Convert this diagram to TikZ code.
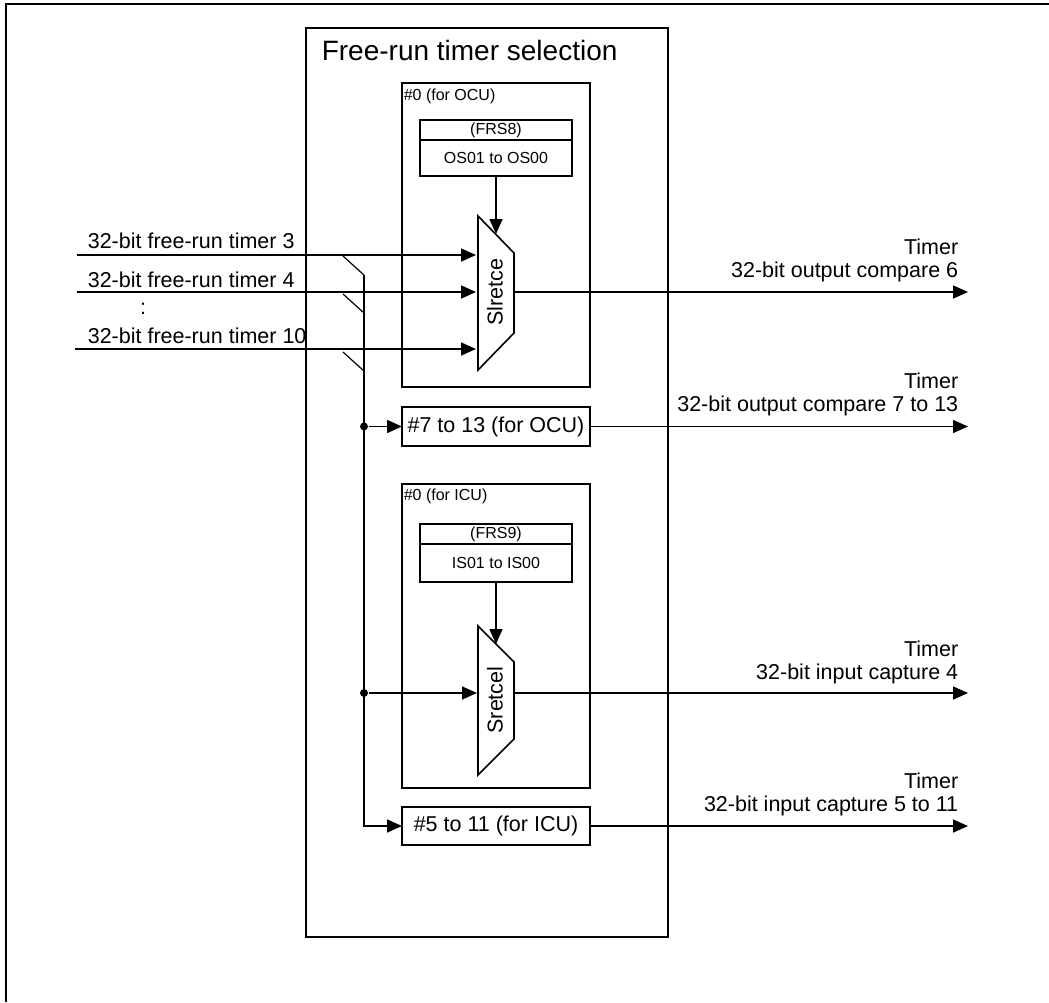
\documentclass[tikz,border=0pt]{standalone}
\usepackage{fontspec}
\setmainfont{Liberation Sans}
\usetikzlibrary{arrows.meta,calc}
\begin{document}
\begin{tikzpicture}[x=1pt,y=-1pt,
  line width=1.6pt,
  box/.style={draw, inner sep=0pt, outer sep=0pt, anchor=north west},
  bigtxt/.style={font=\fontsize{21.5}{23}\selectfont},
  smalltxt/.style={font=\fontsize{16}{18}\selectfont},
  arr/.style={-{Triangle[length=15pt,width=13pt]}},
  jdot/.style={circle, fill, inner sep=0pt, minimum size=8pt},
  lbl/.style={bigtxt, inner sep=0pt},
  outlbl/.style={bigtxt, inner sep=0pt, align=right, anchor=south east},
  tap/.style={line width=1.2pt},
]
\useasboundingbox (0,0) rectangle (1049,1002);
\fill[white] (0,0) rectangle (1049,1002);
% outer frame (cropped)
\coordinate (fTL) at (6,4);
\coordinate (fBL) at (6,1002);
\coordinate (fTR) at (1049,4);
\draw[line width=2.4pt] (fBL) -- (fTL) -- (fTR);

% free-run timer selection block
\node[box, minimum width=362pt, minimum height=909pt] (sel) at (306,28) {};
\node[anchor=base west, inner sep=0pt, font=\fontsize{28}{30}\selectfont] (title) at (321,60) {Free-run timer selection};

% ---------- OCU #0 ----------
\node[box, minimum width=188pt, minimum height=304pt] (ocu0) at (402,83) {};
\node[smalltxt, anchor=base west, inner sep=0pt] (ocu0l) at (403,100) {\#0 (for OCU)};
\node[box, minimum width=152pt, minimum height=20pt, smalltxt] (frs8h) at (420,120) {(FRS8)};
\node[box, minimum width=152pt, minimum height=36pt, smalltxt, anchor=north] (frs8b) at (frs8h.south) {OS01 to OS00};

\coordinate (m1a) at (478,216);
\coordinate (m1b) at (514,253);
\coordinate (m1c) at (514,333);
\coordinate (m1d) at (478,370);
\draw (m1a) -- (m1b) -- (m1c) -- (m1d) -- cycle;
\node[lbl, rotate=90] (m1t) at (495,292) {Slretce};
\coordinate (m1top) at (496,234);
\coordinate (m1in1) at (476,255);
\coordinate (m1in2) at (476,292);
\coordinate (m1in3) at (476,349);
\coordinate (m1out) at (514,292);
\draw[arr] (frs8b.south) -- (m1top);

% inputs
\node[lbl, anchor=base west] (t3) at (87,248) {32-bit free-run timer 3};
\node[lbl, anchor=base west] (t4) at (87,287) {32-bit free-run timer 4};
\node[lbl] (vdots) at (143,309) {:};
\node[lbl, anchor=base west] (t10) at (87,343) {32-bit free-run timer 10};
\coordinate (i3) at (77,255);
\coordinate (i4) at (77,292);
\coordinate (i10) at (75,349);
\draw[arr] (i3) -- (m1in1);
\draw[arr] (i4) -- (m1in2);
\draw[arr] (i10) -- (m1in3);

% bus taps
\coordinate (d1) at (343,256);
\coordinate (d2) at (343,294);
\coordinate (d3) at (343,352);
\coordinate (b1) at (364,275);
\coordinate (b2) at (364,313);
\coordinate (b3) at (364,371);
\draw[tap] (d1) -- (b1);
\draw[tap] (d2) -- (b2);
\draw[tap] (d3) -- (b3);

% ---------- OCU #7 to 13 ----------
\node[box, minimum width=188pt, minimum height=39pt, lbl] (ocu7) at (402,407) {\#7 to 13 (for OCU)};

% ---------- ICU #0 ----------
\node[box, minimum width=188pt, minimum height=304pt] (icu0) at (402,484) {};
\node[smalltxt, anchor=base west, inner sep=0pt] (icu0l) at (403,500) {\#0 (for ICU)};
\node[box, minimum width=152pt, minimum height=20pt, smalltxt] (frs9h) at (420,524) {(FRS9)};
\node[box, minimum width=152pt, minimum height=38pt, smalltxt, anchor=north] (frs9b) at (frs9h.south) {IS01 to IS00};

\coordinate (m2a) at (478,626);
\coordinate (m2b) at (514,662);
\coordinate (m2c) at (514,739);
\coordinate (m2d) at (478,775);
\draw (m2a) -- (m2b) -- (m2c) -- (m2d) -- cycle;
\node[lbl, rotate=90] (m2t) at (495,700) {Sretcel};
\coordinate (m2top) at (496,644);
\coordinate (m2in) at (477,693);
\coordinate (m2out) at (514,693);
\draw[arr] (frs9b.south) -- (m2top);

% ---------- ICU #5 to 11 ----------
\node[box, minimum width=188pt, minimum height=38pt, lbl] (icu5) at (402,807) {\#5 to 11 (for ICU)};

% bus and junctions
\node[jdot] (j1) at (364,426.5) {};
\node[jdot] (j2) at (364,693) {};
\coordinate (bend) at (364,826);
\draw[arr] (b1) -- (bend) -- (icu5.west);
\draw[arr] (j1) -- (ocu7.west);
\draw[arr] (j2) -- (m2in);

% outputs
\coordinate (o1) at (968,292);
\coordinate (o2) at (968,426.5);
\coordinate (o3) at (968,693);
\coordinate (o4) at (968,826);
\draw[arr] (m1out) -- (o1);
\draw[arr] (ocu7.east) -- (o2);
\draw[arr] (m2out) -- (o3);
\draw[arr] (icu5.east) -- (o4);
\node[outlbl] (l1) at ($(o1)+(-9,-9.5)$) {Timer\\32-bit output compare 6};
\node[outlbl] (l2) at ($(o2)+(-9,-9.5)$) {Timer\\32-bit output compare 7 to 13};
\node[outlbl] (l3) at ($(o3)+(-9,-8)$) {Timer\\32-bit input capture 4};
\node[outlbl] (l4) at ($(o4)+(-9,-9)$) {Timer\\32-bit input capture 5 to 11};
\end{tikzpicture}
\end{document}
